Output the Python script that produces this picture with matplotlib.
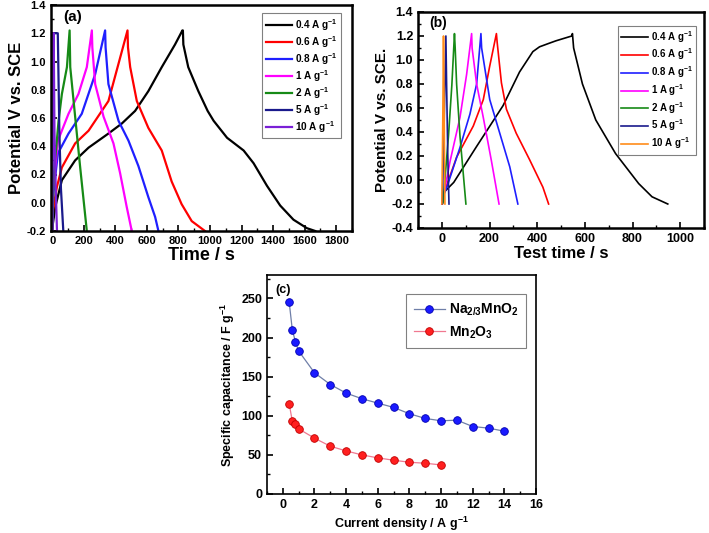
import matplotlib
matplotlib.use("Agg")
import matplotlib.pyplot as plt
from matplotlib.ticker import MultipleLocator

plt.rcParams["font.family"] = ["Liberation Sans", "DejaVu Sans"]
plt.rcParams["font.weight"] = "bold"
plt.rcParams["mathtext.default"] = "regular"

# ---- panel (a): GCD curves, Na2/3MnO2 ----
labels_a = ['0.4 A g$^{-1}$', '0.6 A g$^{-1}$', '0.8 A g$^{-1}$', '1 A g$^{-1}$',
            '2 A g$^{-1}$', '5 A g$^{-1}$', '10 A g$^{-1}$']
colors_a = ['black', 'red', '#1f1fff', '#ff00ff', '#168a16', '#1a1a8c', '#7a1fd6']

t_a04 = [0, 19, 61, 145, 230, 356, 440, 525, 609, 694, 778, 825, 828, 831, 862, 926, 985,
         1023, 1108, 1213, 1276, 1361, 1445, 1529, 1614, 1667]
v_a04 = [-0.18, -0.03, 0.16, 0.30, 0.39, 0.49, 0.56, 0.65, 0.79, 0.96, 1.12, 1.22, 1.22, 1.12, 0.96,
         0.79, 0.65, 0.58, 0.46, 0.37, 0.28, 0.12, -0.02, -0.12, -0.18, -0.2]
t_a06 = [0, 5, 29, 61, 145, 230, 356, 477, 480, 494, 536, 609, 694, 757, 820, 884, 968]
v_a06 = [-0.2, -0.05, 0.11, 0.25, 0.42, 0.51, 0.72, 1.22, 1.1, 0.96, 0.72, 0.53, 0.37, 0.15, -0.01, -0.13, -0.2]
t_a08 = [0, 5, 36, 103, 187, 272, 335, 338, 356, 420, 483, 546, 609, 652, 673]
v_a08 = [-0.2, 0.05, 0.35, 0.49, 0.63, 0.91, 1.22, 1.1, 0.84, 0.58, 0.44, 0.26, 0.04, -0.10, -0.2]
t_a1 = [0, 5, 36, 103, 166, 219, 251, 254, 272, 325, 388, 430, 472, 504]
v_a1 = [-0.2, 0.1, 0.44, 0.63, 0.77, 0.96, 1.22, 1.1, 0.84, 0.61, 0.42, 0.21, -0.03, -0.2]
t_a2 = [0, 10, 40, 61, 93, 110, 114, 145, 177, 219]
v_a2 = [-0.2, 0.2, 0.58, 0.77, 0.96, 1.22, 0.96, 0.61, 0.25, -0.2]
t_a5 = [0, 3, 8, 35, 38, 45, 55, 70]
v_a5 = [-0.2, 0.6, 1.2, 1.2, 1.0, 0.5, 0.1, -0.2]
t_a10 = [0, 3, 6, 9, 14, 22, 30]
v_a10 = [-0.2, 0.6, 1.2, 1.2, 0.5, 0.1, -0.2]

# ---- panel (b): GCD curves, Mn2O3 ----
labels_b = labels_a
colors_b = ['black', 'red', '#1f1fff', '#ff00ff', '#168a16', '#1a1a8c', '#ff8c1a']

t_b04 = [10, 50, 146, 257, 326, 382, 410, 451, 479, 545, 548, 553, 590, 646, 729, 826, 882, 948]
v_b04 = [-0.1, -0.02, 0.28, 0.62, 0.90, 1.07, 1.11, 1.14, 1.16, 1.2, 1.22, 1.1, 0.8, 0.50, 0.22, -0.03, -0.14, -0.2]
t_b06 = [2, 7, 62, 132, 174, 201, 229, 232, 250, 271, 312, 368, 424, 448]
v_b06 = [-0.2, -0.12, 0.19, 0.45, 0.67, 0.95, 1.22, 1.15, 0.81, 0.59, 0.39, 0.17, -0.06, -0.2]
t_b08 = [3, 21, 76, 118, 146, 164, 167, 201, 243, 285, 319]
v_b08 = [-0.15, -0.06, 0.27, 0.55, 0.80, 1.22, 1.1, 0.67, 0.39, 0.11, -0.2]
t_b1 = [0, 35, 76, 104, 125, 127, 146, 174, 208, 240]
v_b1 = [-0.2, 0.16, 0.52, 0.88, 1.22, 1.1, 0.80, 0.52, 0.16, -0.2]
t_b2 = [5, 28, 42, 53, 56, 62, 76, 101]
v_b2 = [-0.19, 0.37, 0.79, 1.22, 1.1, 0.80, 0.37, -0.2]
t_b5 = [2, 10, 17, 20, 25, 30]
v_b5 = [-0.2, 0.5, 1.2, 0.8, 0.2, -0.2]
t_b10 = [0, 4, 7, 10, 13]
v_b10 = [-0.2, 0.5, 1.2, 0.5, -0.2]

# ---- panel (c): specific capacitance ----
cd_na = [0.4, 0.6, 0.8, 1, 2, 3, 4, 5, 6, 7, 8, 9, 10, 11, 12, 13, 14]
cap_na = [245.7, 209.8, 194.4, 182.9, 155, 140, 129, 121.8, 116.2, 110.7, 102.6, 96.6, 93.6, 94.4, 86.3, 84.2, 80.3]
cd_mn = [0.4, 0.6, 0.8, 1, 2, 3, 4, 5, 6, 7, 8, 9, 10]
cap_mn = [115.4, 93.2, 88.9, 83.3, 71.4, 61.1, 55.1, 50, 46.2, 43.2, 40.6, 39.3, 37.2]

W, H = 709, 533
fig = plt.figure(figsize=(W / 100, H / 100), dpi=100)


def box(l, t, r, b):
    return [l / W, (H - b) / H, (r - l) / W, (b - t) / H]


def style(ax, lw=1.5, size=8):
    for s in ax.spines.values():
        s.set_linewidth(lw)
    ax.tick_params(which='both', direction='in', top=False, right=False, labelsize=size)
    ax.tick_params(which='major', length=4, width=1.2)
    ax.tick_params(which='minor', length=2.5, width=1.0)
    for lab in ax.get_xticklabels() + ax.get_yticklabels():
        lab.set_fontweight('bold')


# (a)
ax1 = fig.add_axes(box(51, 5, 352, 231))
series_a = [(t_a04, v_a04), (t_a06, v_a06), (t_a08, v_a08), (t_a1, v_a1),
            (t_a2, v_a2), (t_a5, v_a5), (t_a10, v_a10)]
for (t, v), c, lab in zip(series_a, colors_a, labels_a):
    ax1.plot(t, v, color=c, lw=1.6, label=lab)
ax1.set_xlim(-8, 1900)
ax1.set_ylim(-0.2, 1.4)
ax1.xaxis.set_major_locator(MultipleLocator(200))
ax1.xaxis.set_minor_locator(MultipleLocator(100))
ax1.yaxis.set_major_locator(MultipleLocator(0.2))
ax1.yaxis.set_minor_locator(MultipleLocator(0.1))
ax1.set_yticklabels(['%.1f' % v for v in ax1.get_yticks()])
style(ax1, lw=1.8, size=8)
ax1.set_xlabel('Time / s', fontsize=13, fontweight='bold', labelpad=1)
ax1.set_ylabel('Potential V vs. SCE', fontsize=12, fontweight='bold', labelpad=2)
ax1.text(0.04, 0.93, '(a)', transform=ax1.transAxes, fontsize=11, fontweight='bold')
leg = ax1.legend(loc='upper right', fontsize=7.2, handlelength=2.6, handletextpad=0.3,
                 labelspacing=0.12, borderpad=0.35, fancybox=False, framealpha=1,
                 edgecolor='gray', bbox_to_anchor=(0.98, 0.985))
leg.get_frame().set_linewidth(0.8)
for txt in leg.get_texts():
    txt.set_fontweight('bold')

# (b)
ax2 = fig.add_axes(box(418, 12, 704, 228))
series_b = [(t_b04, v_b04), (t_b06, v_b06), (t_b08, v_b08), (t_b1, v_b1),
            (t_b2, v_b2), (t_b5, v_b5), (t_b10, v_b10)]
for (t, v), c, lab in zip(series_b, colors_b, labels_b):
    ax2.plot(t, v, color=c, lw=1.2, label=lab)
ax2.set_xlim(-100, 1100)
ax2.set_ylim(-0.4, 1.4)
ax2.xaxis.set_major_locator(MultipleLocator(200))
ax2.xaxis.set_minor_locator(MultipleLocator(100))
ax2.yaxis.set_major_locator(MultipleLocator(0.2))
ax2.yaxis.set_minor_locator(MultipleLocator(0.1))
ax2.set_yticklabels(['%.1f' % v for v in ax2.get_yticks()])
style(ax2, lw=1.8, size=9)
ax2.set_xlabel('Test time / s', fontsize=12, fontweight='bold', labelpad=1)
ax2.set_ylabel('Potential V vs. SCE.', fontsize=11, fontweight='bold', labelpad=2)
ax2.text(0.04, 0.93, '(b)', transform=ax2.transAxes, fontsize=10, fontweight='bold')
leg = ax2.legend(loc='upper right', fontsize=7, handlelength=2.8, handletextpad=0.3,
                 labelspacing=0.2, borderpad=0.35, fancybox=False, framealpha=1,
                 edgecolor='gray', bbox_to_anchor=(0.99, 0.96))
leg.get_frame().set_linewidth(0.8)
for txt in leg.get_texts():
    txt.set_fontweight('bold')

# (c)
ax3 = fig.add_axes(box(267, 275, 536, 494))
ax3.plot(cd_na, cap_na, color='#6f7fa8', lw=0.9, marker='o', ms=5.5,
         mfc='#1a1aff', mec='#0000b0', mew=0.6, label='Na$_{2/3}$MnO$_2$')
ax3.plot(cd_mn, cap_mn, color='#f07890', lw=0.9, marker='o', ms=5.5,
         mfc='#ff2020', mec='#c00000', mew=0.6, label='Mn$_2$O$_3$')
ax3.set_xlim(-1, 16)
ax3.set_ylim(0, 280)
ax3.xaxis.set_major_locator(MultipleLocator(2))
ax3.xaxis.set_minor_locator(MultipleLocator(1))
ax3.yaxis.set_major_locator(MultipleLocator(50))
ax3.yaxis.set_minor_locator(MultipleLocator(25))
style(ax3, lw=1.2, size=9)
ax3.set_xlabel('Current density / A g$^{-1}$', fontsize=9, fontweight='bold', labelpad=3)
ax3.set_ylabel('Specific capacitance / F g$^{-1}$', fontsize=9, fontweight='bold', labelpad=3)
ax3.text(0.03, 0.92, '(c)', transform=ax3.transAxes, fontsize=9, fontweight='bold')
leg = ax3.legend(loc='upper right', fontsize=10, handlelength=2.2, handletextpad=0.3,
                 labelspacing=0.45, borderpad=0.55, fancybox=False, framealpha=1,
                 edgecolor='gray', bbox_to_anchor=(0.99, 0.945))
leg.get_frame().set_linewidth(0.8)

plt.savefig('out.png', dpi=100)
